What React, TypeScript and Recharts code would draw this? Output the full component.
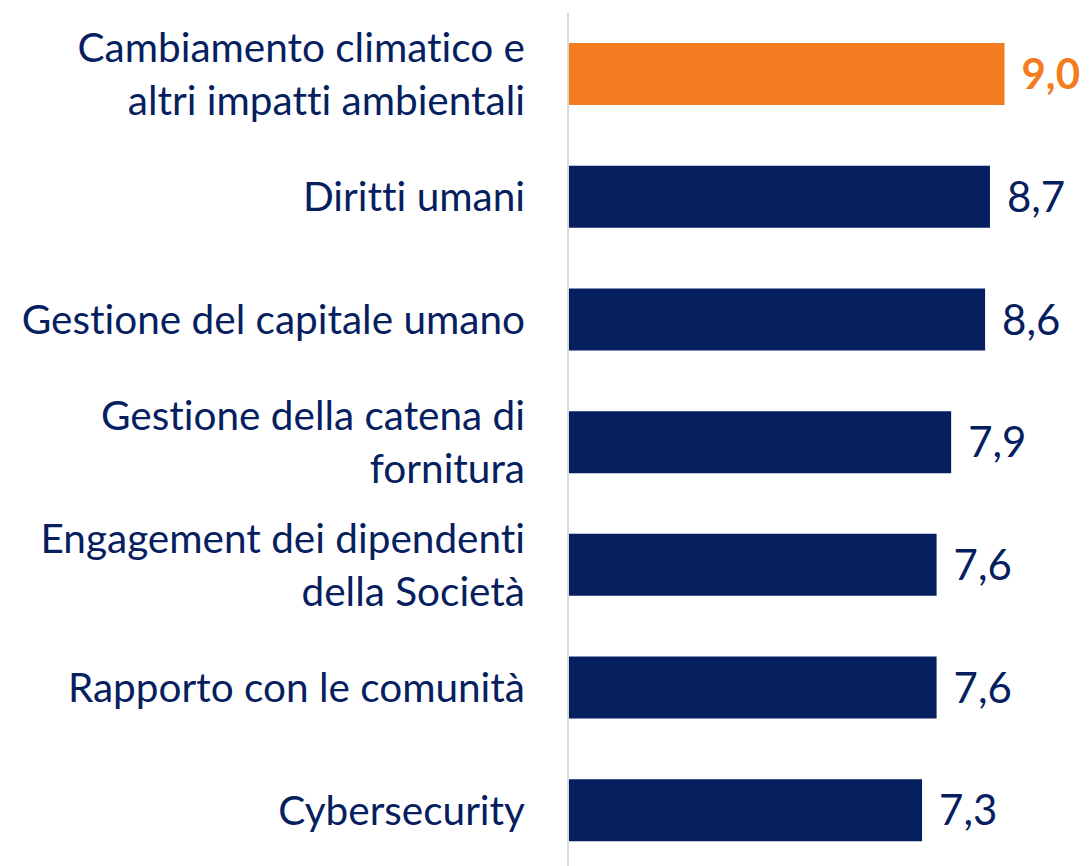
import { BarChart, Bar, XAxis, YAxis, LabelList, Cell } from 'recharts';

const categories = [
  ['Cambiamento climatico e', 'altri impatti ambientali'],
  ['Diritti umani'],
  ['Gestione del capitale umano'],
  ['Gestione della catena di', 'fornitura'],
  ['Engagement dei dipendenti', 'della Società'],
  ['Rapporto con le comunità'],
  ['Cybersecurity'],
];
const scores = [9.0, 8.7, 8.6, 7.9, 7.6, 7.6, 7.3];
const highlighted = [true, false, false, false, false, false, false];

const NAVY = '#06205f';
const ORANGE = '#f47c20';
const FONT = 'Lato, sans-serif';

const data = categories.map((lines, i) => ({
  name: lines.join(' '),
  lines,
  score: scores[i],
  highlight: highlighted[i],
}));

function CategoryTick({ x, y, payload, index }: any) {
  const lines: string[] = data[index]?.lines ?? [payload.value];
  const lineHeight = 53;
  const startY = y - ((lines.length - 1) * lineHeight) / 2;
  return (
    <text
      x={x - 35}
      y={startY}
      textAnchor="end"
      fill={NAVY}
      fontSize={40.5}
      fontFamily={FONT}
      style={{ fontVariantLigatures: 'none' }}
    >
      {lines.map((line, i) => (
        <tspan key={i} x={x - 35} y={startY + i * lineHeight} dy="0.35em">
          {line}
        </tspan>
      ))}
    </text>
  );
}

function ValueLabel({ x, y, width, height, value, index }: any) {
  const hl = data[index]?.highlight;
  return (
    <text
      x={x + width + 17}
      y={y + height / 2}
      dy="0.36em"
      fill={hl ? ORANGE : NAVY}
      fontSize={42}
      fontWeight={hl ? 700 : 400}
      fontFamily={FONT}
    >
      {Number(value).toFixed(1).replace('.', ',')}
    </text>
  );
}

export default function App() {
  return (
    <div style={{ position: 'absolute', left: 0, top: 0, width: 1089, height: 866, overflow: 'hidden', background: '#fff' }}>
      <BarChart
        width={1089}
        height={872}
        data={data}
        layout="vertical"
        margin={{ top: 13, right: 36, bottom: 0, left: 0 }}
        barCategoryGap={30}
      >
        <XAxis type="number" domain={[0, 10]} hide />
        <YAxis
          type="category"
          dataKey="name"
          width={568}
          axisLine={{ stroke: '#d9d9d9', strokeWidth: 2 }}
          tickLine={false}
          tick={<CategoryTick />}
          interval={0}
        />
        <Bar dataKey="score" barSize={62} isAnimationActive={false}>
          {data.map((d, i) => (
            <Cell key={i} fill={d.highlight ? ORANGE : NAVY} />
          ))}
          <LabelList dataKey="score" content={<ValueLabel />} />
        </Bar>
      </BarChart>
    </div>
  );
}
